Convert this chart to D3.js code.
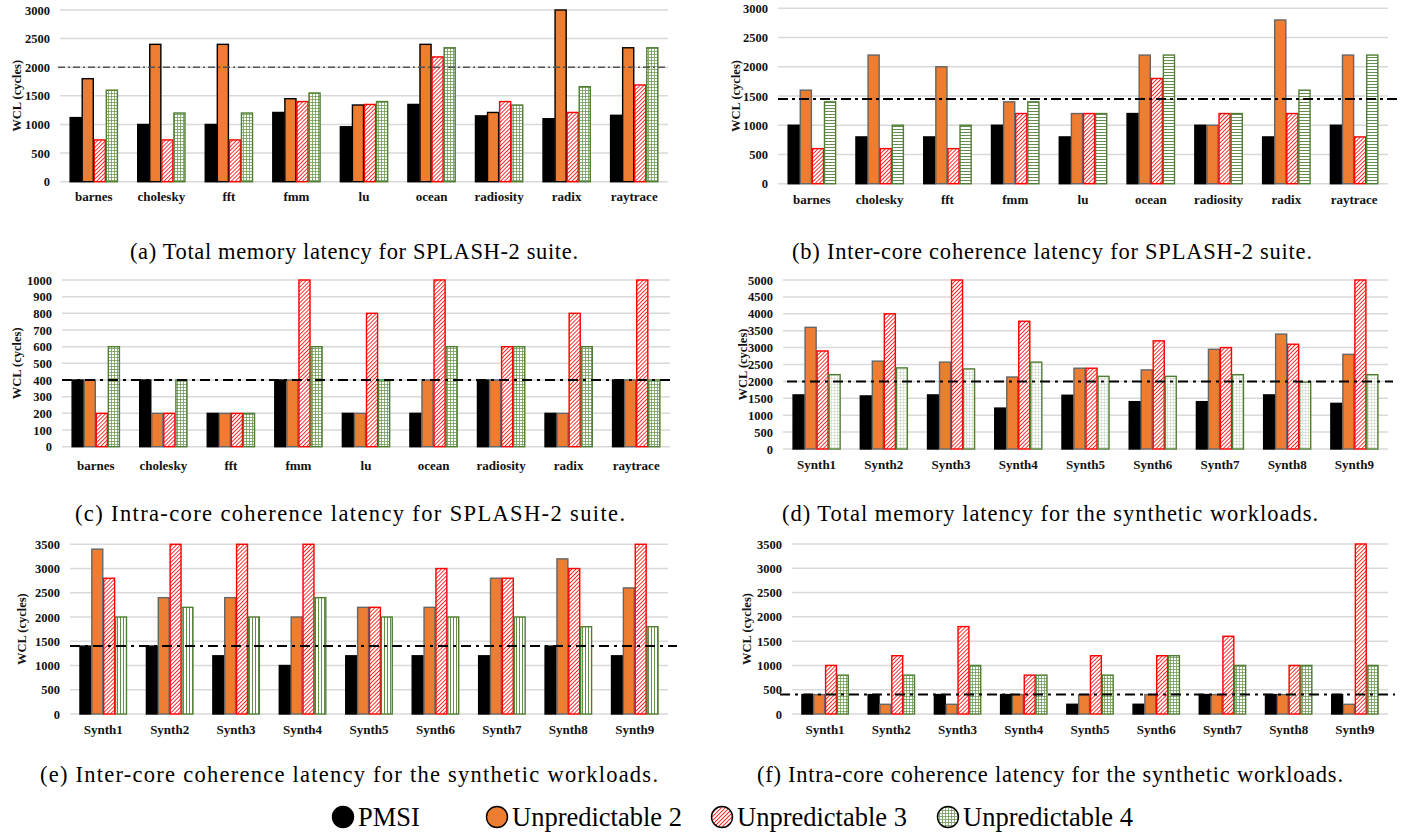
<!DOCTYPE html>
<html>
<head>
<meta charset="utf-8">
<script src="https://cdn.jsdelivr.net/npm/d3@7"></script>
<style>
  body { margin: 0; background: #fff; }
  text { font-family: "Liberation Serif", "Times New Roman", serif; }
</style>
</head>
<body>
<svg id="fig" width="1403" height="833"></svg>
<script>
// categories
const splashCats = ['barnes', 'cholesky', 'fft', 'fmm', 'lu', 'ocean', 'radiosity', 'radix', 'raytrace'];
const synthCats = ['Synth1', 'Synth2', 'Synth3', 'Synth4', 'Synth5', 'Synth6', 'Synth7', 'Synth8', 'Synth9'];
const seriesNames = ['PMSI', 'Unpredictable 2', 'Unpredictable 3', 'Unpredictable 4'];

// (a) total memory latency, SPLASH-2
const aPMSI = [1120, 1000, 1000, 1210, 960, 1350, 1150, 1100, 1160];
const aU2 = [1800, 2400, 2400, 1450, 1340, 2400, 1210, 3000, 2340];
const aU3 = [730, 730, 730, 1400, 1350, 2180, 1400, 1210, 1690];
const aU4 = [1600, 1200, 1200, 1550, 1400, 2340, 1340, 1660, 2340];
// (b) inter-core coherence, SPLASH-2
const bPMSI = [1000, 800, 800, 1000, 800, 1200, 1000, 800, 1000];
const bU2 = [1600, 2200, 2000, 1400, 1200, 2200, 1000, 2800, 2200];
const bU3 = [600, 600, 600, 1200, 1200, 1800, 1200, 1200, 800];
const bU4 = [1400, 1000, 1000, 1400, 1200, 2200, 1200, 1600, 2200];
// (c) intra-core coherence, SPLASH-2
const cPMSI = [400, 400, 200, 400, 200, 200, 400, 200, 400];
const cU2 = [400, 200, 200, 400, 200, 400, 400, 200, 400];
const cU3 = [200, 200, 200, 1000, 800, 1000, 600, 800, 1000];
const cU4 = [600, 400, 200, 600, 400, 600, 600, 600, 400];
// (d) total memory latency, synthetic
const dPMSI = [1600, 1570, 1600, 1210, 1590, 1400, 1400, 1600, 1350];
const dU2 = [3600, 2600, 2570, 2130, 2390, 2340, 2950, 3400, 2800];
const dU3 = [2900, 4000, 5000, 3780, 2390, 3200, 3000, 3100, 5000];
const dU4 = [2200, 2400, 2370, 2570, 2150, 2150, 2200, 1980, 2200];
// (e) inter-core coherence, synthetic
const ePMSI = [1400, 1400, 1200, 1000, 1200, 1200, 1200, 1400, 1200];
const eU2 = [3400, 2400, 2400, 2000, 2200, 2200, 2800, 3200, 2600];
const eU3 = [2800, 3500, 3500, 3500, 2200, 3000, 2800, 3000, 3500];
const eU4 = [2000, 2200, 2000, 2400, 2000, 2000, 2000, 1800, 1800];
// (f) intra-core coherence, synthetic
const fPMSI = [400, 400, 400, 400, 200, 200, 400, 400, 400];
const fU2 = [400, 200, 200, 400, 400, 400, 400, 400, 200];
const fU3 = [1000, 1200, 1800, 800, 1200, 1200, 1600, 1000, 3500];
const fU4 = [800, 800, 1000, 800, 800, 1200, 1000, 1000, 1000];

// axis maxima, tick steps and reference (dash-dot) levels
const yMax = [3000, 3000, 1000, 5000, 3500, 3500];
const yStep = [500, 500, 100, 500, 500, 500];
const refLevel = [2000, 1450, 400, 2000, 1400, 400];

const captions = [
    '(a) Total memory latency for SPLASH-2 suite.',
    '(b) Inter-core coherence latency for SPLASH-2 suite.',
    '(c) Intra-core coherence latency for SPLASH-2 suite.',
    '(d) Total memory latency for the synthetic workloads.',
    '(e) Inter-core coherence latency for the synthetic workloads.',
    '(f) Intra-core coherence latency for the synthetic workloads.'
];

const svg = d3.select('#fig');
const defs = svg.append('defs');

// hatch for Unpredictable 3
const hatch = defs.append('pattern').attr('id', 'hatch')
    .attr('patternUnits', 'userSpaceOnUse').attr('width', 2.8).attr('height', 2.8)
    .attr('patternTransform', 'rotate(45)');
hatch.append('rect').attr('width', 2.8).attr('height', 2.8).attr('fill', '#fff');
hatch.append('line').attr('x1', 0).attr('y1', 0).attr('x2', 0).attr('y2', 2.8)
    .attr('stroke', '#ff1a1a').attr('stroke-width', 1.8);

// grid-like patterns for Unpredictable 4
function gridPattern(id, h, v, color, sw) {
    const p = defs.append('pattern').attr('id', id)
        .attr('patternUnits', 'userSpaceOnUse').attr('width', 3).attr('height', 3);
    p.append('rect').attr('width', 3).attr('height', 3).attr('fill', '#fff');
    if (h) p.append('line').attr('x1', 0).attr('y1', 0.5).attr('x2', 3).attr('y2', 0.5)
        .attr('stroke', color).attr('stroke-width', sw);
    if (v) p.append('line').attr('x1', 0.5).attr('y1', 0).attr('x2', 0.5).attr('y2', 3)
        .attr('stroke', color).attr('stroke-width', sw);
}
gridPattern('grid', true, true, '#6f9a55', 0.8);
gridPattern('hlines', true, false, '#55803a', 0.9);
gridPattern('vlines', false, true, '#55803a', 0.9);
gridPattern('fine', true, true, '#c8d6bf', 0.6);

const panels = [
    {cats: splashCats, series: [aPMSI, aU2, aU3, aU4], left: 60, right: 668, y0: 181.7, yTop: 10,
     labelY: 201, ylabX: 17, capX: 354, capY: 259, capW: 448, u4: 'grid', u2Stroke: '#000',
     ref: {x0: 58, x1: 668, color: '#555', w: 1.3, dash: '7,3,2,3'}},
    {cats: splashCats, series: [bPMSI, bU2, bU3, bU4], left: 778, right: 1388, y0: 183.7, yTop: 8.3,
     labelY: 204, ylabX: 736, capX: 1052, capY: 259, capW: 520, u4: 'hlines', u2Stroke: '#666',
     ref: {x0: 778, x1: 1400, color: '#000', w: 2, dash: '10,4,3,4'}},
    {cats: splashCats, series: [cPMSI, cU2, cU3, cU4], left: 62, right: 670, y0: 446.7, yTop: 280,
     labelY: 470, ylabX: 17, capX: 350, capY: 521, capW: 550, u4: 'grid', u2Stroke: '#666',
     ref: {x0: 62, x1: 670, color: '#000', w: 2, dash: '10,5,3,5'}},
    {cats: synthCats, series: [dPMSI, dU2, dU3, dU4], left: 783, right: 1388, y0: 449, yTop: 280,
     labelY: 469, ylabX: 743, capX: 1050, capY: 521, capW: 536, u4: 'fine', u2Stroke: '#666',
     ref: {x0: 787, x1: 1393, color: '#000', w: 2, dash: '10,5,3,5'}},
    {cats: synthCats, series: [ePMSI, eU2, eU3, eU4], left: 70, right: 668, y0: 714, yTop: 544.3,
     labelY: 734, ylabX: 22, capX: 349, capY: 782, capW: 618, u4: 'vlines', u2Stroke: '#666',
     ref: {x0: 70, x1: 677, color: '#000', w: 2, dash: '10,5,3,5'}},
    {cats: synthCats, series: [fPMSI, fU2, fU3, fU4], left: 792, right: 1388, y0: 714, yTop: 544,
     labelY: 734, ylabX: 747, capX: 1050, capY: 782, capW: 586, u4: 'grid', u2Stroke: '#666',
     ref: {x0: 780, x1: 1395, color: '#000', w: 2, dash: '10,5,3,5'}}
];

panels.forEach((p, k) => {
    const g = svg.append('g');
    const y = d3.scaleLinear().domain([0, yMax[k]]).range([p.y0, p.yTop]);
    const x0 = d3.scaleBand().domain(p.cats).range([p.left, p.right])
        .paddingInner(0.3).paddingOuter(0.15);
    const x1 = d3.scaleBand().domain(seriesNames).range([0, x0.bandwidth()]).paddingInner(0.08);
    const ticks = d3.range(0, yMax[k] + 1, yStep[k]);

    // gridlines
    g.append('g').selectAll('line').data(ticks).join('line')
        .attr('x1', p.left).attr('x2', p.right)
        .attr('y1', d => y(d)).attr('y2', d => y(d))
        .attr('stroke', '#d9d9d9').attr('stroke-width', 1.5);

    // y axis labels
    const ax = g.append('g').attr('transform', `translate(${p.left},0)`)
        .call(d3.axisLeft(y).tickValues(ticks).tickFormat(d3.format('d')).tickSize(0).tickPadding(10));
    ax.select('.domain').remove();
    ax.selectAll('text').attr('font-family', '"Liberation Serif", serif')
        .attr('font-size', 12.5).attr('font-weight', 'bold').attr('fill', '#111');

    g.append('text')
        .attr('transform', `translate(${p.ylabX},${(p.y0 + p.yTop) / 2}) rotate(-90)`)
        .attr('text-anchor', 'middle').attr('dy', '0.35em')
        .attr('font-size', 12.5).attr('font-weight', 'bold').attr('fill', '#111')
        .text('WCL (cycles)');

    // bars
    const fills = ['#000', '#ED7D31', 'url(#hatch)', `url(#${p.u4})`];
    const strokes = ['#000', p.u2Stroke, '#ff0000', '#507e32'];
    p.series.forEach((vals, s) => {
        g.append('g').selectAll('rect').data(vals).join('rect')
            .attr('x', (d, i) => x0(p.cats[i]) + x1(seriesNames[s]))
            .attr('y', d => y(d))
            .attr('width', x1.bandwidth())
            .attr('height', d => p.y0 - y(d))
            .attr('fill', fills[s])
            .attr('stroke', strokes[s]).attr('stroke-width', 1.4);
    });

    // reference line
    const r = p.ref;
    g.append('line')
        .attr('x1', r.x0).attr('x2', r.x1)
        .attr('y1', y(refLevel[k])).attr('y2', y(refLevel[k]))
        .attr('stroke', r.color).attr('stroke-width', r.w)
        .attr('stroke-dasharray', r.dash);

    // category labels
    g.append('g').selectAll('text').data(p.cats).join('text')
        .attr('x', d => x0(d) + x0.bandwidth() / 2)
        .attr('y', p.labelY)
        .attr('text-anchor', 'middle')
        .attr('font-size', 13).attr('font-weight', 'bold').attr('fill', '#111')
        .text(d => d);

    // caption
    g.append('text')
        .attr('x', p.capX - p.capW / 2).attr('y', p.capY)
        .attr('textLength', p.capW).attr('lengthAdjust', 'spacing')
        .attr('font-size', 22.5).attr('fill', '#000')
        .text(captions[k]);
});

// legend
const legendX = [343, 497, 722, 948];
const legendFill = ['#000', '#ED7D31', 'url(#hatch)', 'url(#grid)'];
const lg = svg.append('g');
seriesNames.forEach((name, i) => {
    lg.append('circle').attr('cx', legendX[i]).attr('cy', 817).attr('r', 10.5)
        .attr('fill', legendFill[i]).attr('stroke', '#000').attr('stroke-width', 1.4);
    lg.append('text').attr('x', legendX[i] + 15).attr('y', 826)
        .attr('font-size', 26.5).attr('fill', '#000').text(name);
});
</script>
</body>
</html>
